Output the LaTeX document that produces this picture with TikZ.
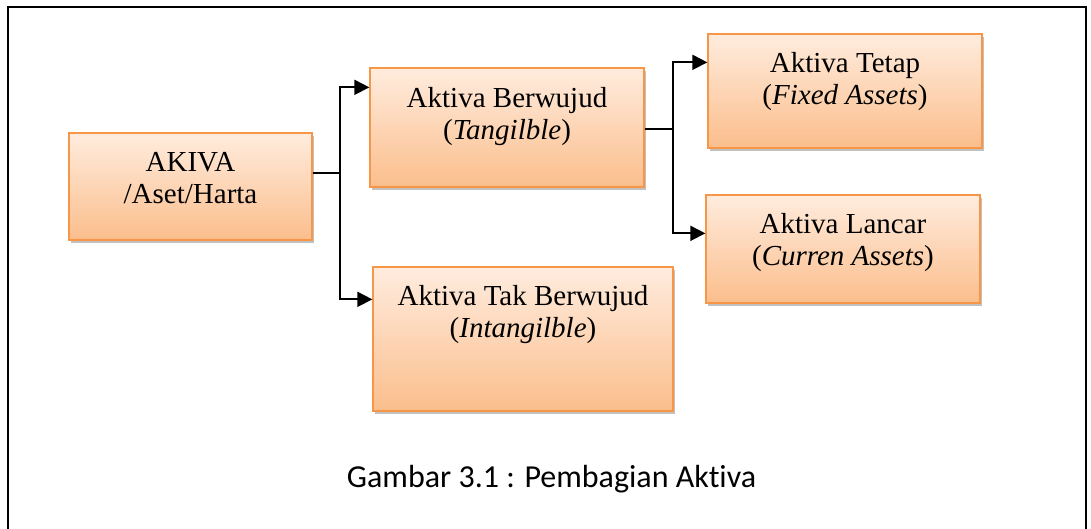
\documentclass[tikz,border=0pt]{standalone}
\usepackage{fontspec}
\setmainfont{Liberation Serif}
\newfontfamily\capfont[Ligatures=NoCommon]{Carlito}
\usetikzlibrary{positioning,shadows,arrows.meta}
\definecolor{garis}{RGB}{247,150,70}
\definecolor{atas}{RGB}{255,236,222}
\definecolor{bawah}{RGB}{251,190,140}
\tikzset{
  kotak/.style={draw=garis,line width=1.3pt,top color=atas,bottom color=bawah,
    drop shadow={shadow xshift=2pt,shadow yshift=-3pt,opacity=.35,fill=black!70}},
  isi/.style={inner sep=0pt,align=center,font=\fontsize{29}{32}\selectfont},
  hub/.style={line width=1.8pt},
  panah/.style={hub,-{Triangle[length=15pt,width=15pt]}}
}
\begin{document}
\begin{tikzpicture}[x=1pt,y=-1pt]
  \useasboundingbox (0,0) rectangle (1091,529);
  \draw[line width=1.6pt] (8,529) -- (8,7) -- (1086,7) -- (1086,529);
  % kotak-kotak
  \node[kotak,minimum width=243pt,minimum height=107pt] (akiva) at (190.5,186.5) {};
  \node[kotak,minimum width=274pt,minimum height=119pt] (berwujud) at (507,127.5) {};
  \node[kotak,minimum width=300pt,minimum height=144pt] (tak) at (523,339) {};
  \node[kotak,minimum width=274pt,minimum height=114pt] (tetap) at (845,91) {};
  \node[kotak,minimum width=274pt,minimum height=108pt] (lancar) at (843,249) {};
  % teks
  \node[isi,below=20pt of akiva.north] (tAkiva) {AKIVA\\/Aset/Harta};
  \node[isi,below=20pt of berwujud.north] (tBerwujud) {Aktiva Berwujud\\(\textit{Tangilble})};
  \node[isi,below=19pt of tak.north] (tTak) {Aktiva Tak Berwujud\\(\textit{Intangilble})};
  \node[isi,below=19pt of tetap.north] (tTetap) {Aktiva Tetap\\(\textit{Fixed Assets})};
  \node[isi,below=19pt of lancar.north] (tLancar) {Aktiva Lancar\\(\textit{Curren Assets})};
  % penghubung
  \coordinate (j1) at (340,173);
  \coordinate (j2) at (673,129);
  \draw[hub] (akiva.east |- j1) -- (j1);
  \draw[panah] (j1) |- ([yshift=-20pt]berwujud.north west);
  \draw[panah] (j1) |- ([yshift=-33pt]tak.north west);
  \draw[hub] (berwujud.east |- j2) -- (j2);
  \draw[panah] (j2) |- ([yshift=-29pt]tetap.north west);
  \draw[panah] (j2) |- ([yshift=-39pt]lancar.north west);
  \node[font=\capfont\fontsize{32}{38}\selectfont,anchor=base] (judul) at (551.5,487) {Gambar 3.1 : Pembagian Aktiva};
\end{tikzpicture}
\end{document}
